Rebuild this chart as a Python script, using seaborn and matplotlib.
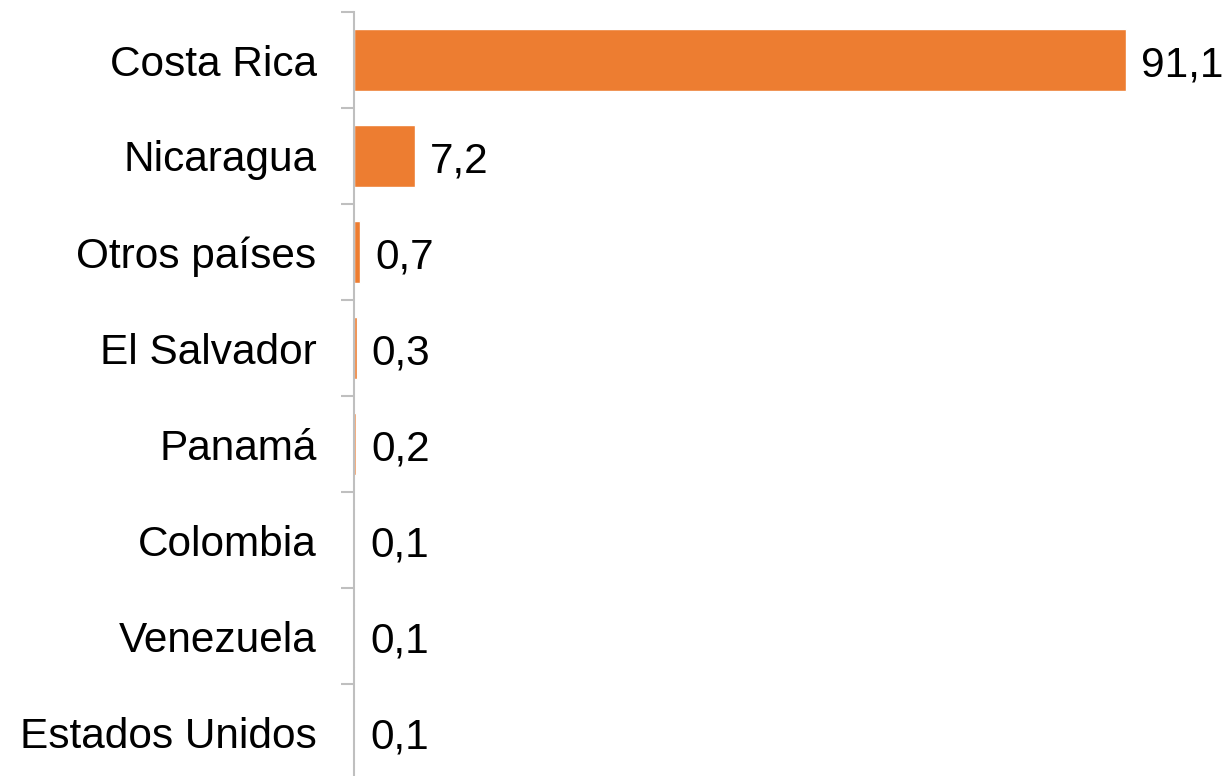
import matplotlib
matplotlib.use("Agg")
import matplotlib.pyplot as plt
import seaborn as sns
import pandas as pd
import numpy as np

countries = ["Costa Rica", "Nicaragua", "Otros países", "El Salvador", "Panamá",
             "Colombia", "Venezuela", "Estados Unidos"]
values = [91.1, 7.2, 0.7, 0.3, 0.2, 0.1, 0.1, 0.1]
value_labels = ["91,1", "7,2", "0,7", "0,3", "0,2", "0,1", "0,1", "0,1"]

sns.set_style("white")
plt.rcParams['font.family'] = ['Liberation Sans', 'DejaVu Sans']

df = pd.DataFrame({"pais": countries, "valor": values})

fig = plt.figure(figsize=(12.25, 7.76), dpi=100)
ax = fig.add_axes([354/1225, -4/776, (1201-354)/1225, 768/776])

sns.barplot(data=df, y="pais", x="valor", orient="h", color="#ED7D31",
            saturation=1, width=0.64, ax=ax)

ax.set_xlim(0, 100)
ax.set_ylim(len(countries) - 0.5, -0.5)
ax.set_xlabel("")
ax.set_ylabel("")
ax.set_xticks([])

for s in ["top", "right", "bottom"]:
    ax.spines[s].set_visible(False)
ax.spines["left"].set_color("#BFBFBF")
ax.spines["left"].set_linewidth(1.5)

ax.tick_params(axis="y", which="major", length=0, pad=27, labelsize=30.5, labelcolor="black")
ax.set_yticks(np.arange(len(countries) + 1) - 0.5, minor=True)
ax.tick_params(axis="y", which="minor", length=9.5, width=1.5, color="#BFBFBF", left=True)

for i, (v, lab) in enumerate(zip(values, value_labels)):
    ax.annotate(lab, xy=(v, i), xytext=(11, -4), textcoords="offset points",
                ha="left", va="center", fontsize=30.5, color="black")

fig.savefig("out.png", dpi=100)
